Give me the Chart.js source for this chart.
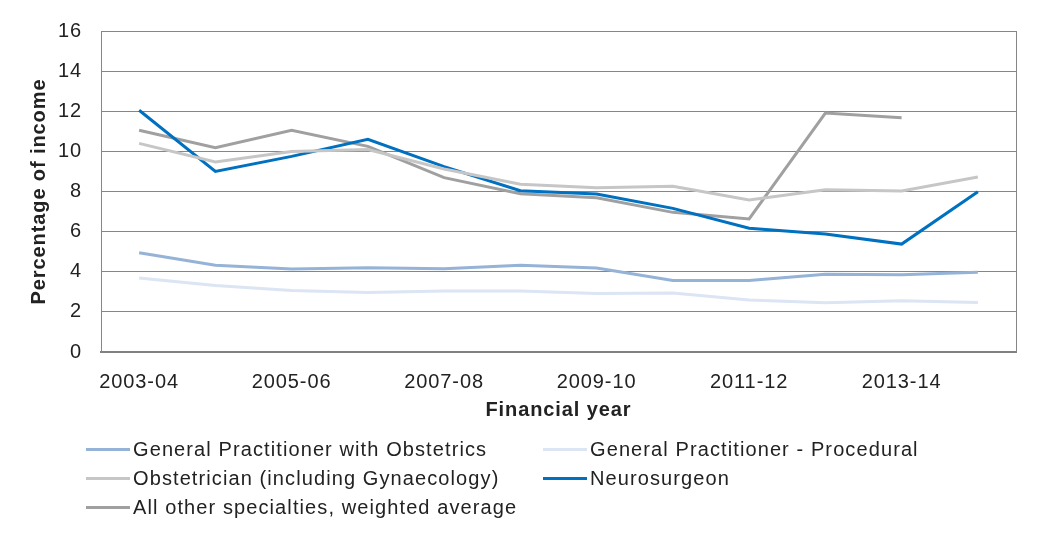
<!DOCTYPE html>
<html>
<head>
<meta charset="utf-8">
<script src="https://cdn.jsdelivr.net/npm/chart.js@4.4.0/dist/chart.umd.min.js"></script>
<style>
  html, body { margin: 0; padding: 0; background: #fff; }
  #wrap { position: relative; width: 1046px; height: 542px; }
  #legend {
    position: absolute; left: 86px; top: 438px;
    display: grid; grid-template-columns: 457px 457px; row-gap: 7px;
    font-family: "Liberation Sans", Arial, sans-serif; font-size: 20px; letter-spacing: 1.1px; color: #222;
  }
  .item { display: flex; align-items: center; height: 22px; white-space: nowrap; }
  .swatch { width: 44px; height: 3px; margin-right: 3px; }
</style>
</head>
<body>
<div id="wrap">
  <canvas id="grafico" width="1046" height="542"></canvas>
  <div id="legend"></div>
</div>
<script>
"use strict";

// ---- datos ----
const years = ["2003-04", "2004-05", "2005-06", "2006-07", "2007-08", "2008-09",
               "2009-10", "2010-11", "2011-12", "2012-13", "2013-14", "2014-15"];
const gpObstetrics = [4.95, 4.32, 4.14, 4.2, 4.15, 4.32, 4.19, 3.56, 3.56, 3.87, 3.85, 3.97];
const gpProcedural = [3.69, 3.31, 3.07, 2.96, 3.04, 3.04, 2.92, 2.94, 2.59, 2.46, 2.56, 2.47];
const obstetrician = [10.4, 9.47, 9.99, 10.09, 9.12, 8.36, 8.19, 8.26, 7.58, 8.09, 8.03, 8.72];
const neurosurgeon = [12.05, 9.0, 9.75, 10.6, 9.24, 8.04, 7.88, 7.16, 6.17, 5.88, 5.38, 7.99];
const allOther = [11.05, 10.18, 11.05, 10.25, 8.69, 7.89, 7.69, 6.96, 6.63, 11.91, 11.67, null];
const yTicks = [0, 2, 4, 6, 8, 10, 12, 14, 16];

const series = [
  { label: "General Practitioner with Obstetrics", data: gpObstetrics, color: "#95b3d7" },
  { label: "General Practitioner - Procedural", data: gpProcedural, color: "#dbe5f4" },
  { label: "Obstetrician (including Gynaecology)", data: obstetrician, color: "#c6c6c6" },
  { label: "Neurosurgeon", data: neurosurgeon, color: "#0070c0" },
  { label: "All other specialties, weighted average", data: allOther, color: "#a0a0a0" }
];

const fuente = "'Liberation Sans', Arial, sans-serif";
const gris = "#868686";

// texto algo más ancho, como en el original
const espaciado = {
  id: "espaciado",
  beforeLayout(chart) { chart.ctx.letterSpacing = "0.9px"; },
  beforeDraw(chart) { chart.ctx.letterSpacing = "0.9px"; }
};

// borde derecho del área del gráfico
const bordeDerecho = {
  id: "bordeDerecho",
  afterDraw(chart) {
    const { ctx, chartArea } = chart;
    ctx.save();
    ctx.strokeStyle = gris;
    ctx.lineWidth = 1;
    ctx.beginPath();
    ctx.moveTo(chartArea.right + 0.5, chartArea.top);
    ctx.lineTo(chartArea.right + 0.5, chartArea.bottom);
    ctx.stroke();
    ctx.restore();
  }
};

new Chart(document.getElementById("grafico"), {
  type: "line",
  data: {
    labels: years,
    datasets: series.map(s => ({
      label: s.label,
      data: s.data,
      borderColor: s.color,
      backgroundColor: s.color,
      borderWidth: 3,
      pointRadius: 0,
      tension: 0,
      spanGaps: false
    }))
  },
  options: {
    responsive: false,
    animation: false,
    layout: { padding: { top: 31, right: 30, left: 0, bottom: 120 } },
    plugins: { legend: { display: false }, tooltip: { enabled: false } },
    scales: {
      x: {
        offset: true,
        grid: { display: false, drawTicks: false },
        border: { color: "#808080", width: 2 },
        ticks: {
          autoSkip: false,
          maxRotation: 0,
          padding: 18,
          color: "#222",
          font: { family: fuente, size: 20 },
          callback: (v, i) => (i % 2 === 0 ? years[i] : "")
        },
        title: {
          display: true,
          text: "Financial year",
          color: "#222",
          padding: { top: 4, bottom: 0 },
          font: { family: fuente, size: 20, weight: "bold" }
        },
        afterFit: s => { s.height = 70; }
      },
      y: {
        min: 0,
        max: 16,
        afterBuildTicks: s => { s.ticks = yTicks.map(v => ({ value: v })); },
        grid: { color: gris, drawTicks: false },
        border: { color: gris },
        ticks: {
          padding: 19,
          color: "#222",
          font: { family: fuente, size: 20 }
        },
        title: {
          display: true,
          text: "Percentage of income",
          color: "#222",
          padding: { top: 27, bottom: 0 },
          font: { family: fuente, size: 20, weight: "bold" }
        },
        afterFit: s => { s.width = 101; }
      }
    }
  },
  plugins: [espaciado, bordeDerecho]
});

// leyenda en dos columnas
const leyenda = document.getElementById("legend");
series.forEach(s => {
  const item = document.createElement("div");
  item.className = "item";
  item.innerHTML = `<span class="swatch" style="background:${s.color}"></span><span>${s.label}</span>`;
  leyenda.appendChild(item);
});
</script>
</body>
</html>
